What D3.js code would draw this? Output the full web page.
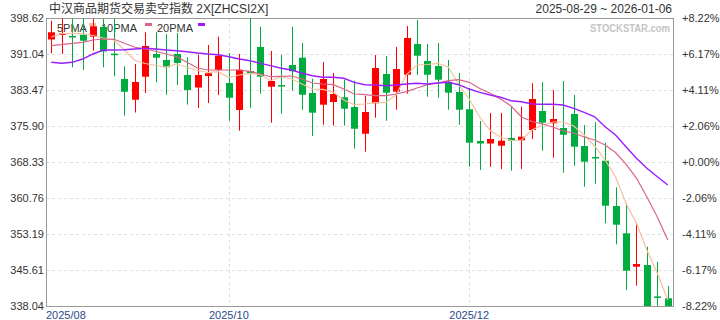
<!DOCTYPE html>
<html>
<head>
<meta charset="utf-8">
<style>
  body { margin: 0; background: #fff; }
  svg { display: block; font-family: "Liberation Sans", Arial, "Noto Sans CJK SC", sans-serif; }
</style>
</head>
<body>
<svg width="720" height="320"></svg>
<script src="https://d3js.org/d3.v7.min.js"></script>
<script>

// daily candles (60 sessions)
var opens = [394.10,395.11,394.84,395.11,394.69,396.73,391.11,385.79,381.43,386.27,
  391.05,389.79,391.05,386.63,384.00,386.42,387.68,384.95,379.27,387.47,
  392.52,384.17,384.52,388.73,390.27,382.84,380.38,380.95,381.94,379.90,
  374.28,380.68,386.84,383.12,386.69,393.15,389.58,388.52,385.22,383.05,
  379.42,372.75,372.22,371.76,373.38,372.89,375.06,379.06,376.47,375.48,
  378.43,371.69,369.38,368.60,359.07,353.33,346.31,346.66,340.06,339.66];
var highs = [398.05,398.51,398.50,398.55,398.41,398.41,398.41,388.46,388.94,395.62,
  395.62,395.25,395.46,390.35,390.90,392.94,394.69,391.26,391.05,398.55,
  396.79,391.68,390.84,396.79,393.36,385.85,389.36,387.05,385.64,385.43,
  382.21,390.84,390.63,392.52,396.94,398.20,393.15,393.36,389.79,387.05,
  383.90,376.95,378.64,378.64,380.11,379.96,384.88,385.16,383.47,385.37,
  382.42,376.11,376.68,372.39,363.01,359.64,355.65,350.51,347.30,342.25];
var lows = [391.20,391.05,388.25,387.68,391.74,388.25,386.36,378.07,378.74,382.84,
  385.09,382.48,384.52,380.39,379.69,380.74,382.42,377.02,374.91,379.75,
  382.70,376.60,378.49,383.33,379.33,373.80,376.18,375.97,375.97,371.13,
  370.50,377.65,377.02,379.33,382.70,386.63,382.06,381.85,379.33,376.18,
  367.34,366.65,367.34,366.86,366.50,366.86,373.17,370.71,369.23,366.08,
  367.55,363.13,363.77,355.44,351.01,341.41,342.31,338.04,338.04,338.04];
var closes = [395.62,395.41,394.71,393.84,396.88,391.57,390.84,383.11,385.16,392.73,
  390.27,388.25,389.15,383.47,386.63,386.99,390.69,381.85,387.74,386.90,
  386.27,385.37,384.40,387.41,382.48,378.70,385.79,382.63,379.54,375.33,
  378.85,388.10,382.91,387.89,394.41,390.69,386.69,385.64,382.91,379.33,
  372.39,372.22,373.17,372.81,372.81,373.65,381.58,376.60,377.37,374.07,
  371.55,368.39,369.26,359.14,355.14,345.47,346.87,338.04,339.93,338.04];

// moving averages as drawn (they start before the first visible session)
var ma5 = [394.62,395.36,395.40,395.36,394.94,394.41,393.99,391.89,389.68,389.05,
  388.63,388.31,388.94,388.25,387.58,387.16,387.32,386.10,386.63,386.99,
  386.69,385.43,386.27,385.79,384.74,383.68,383.62,382.99,381.37,380.42,
  380.53,380.80,380.84,382.42,386.73,388.73,388.84,389.09,388.31,384.63,
  381.58,377.79,374.96,373.59,372.85,372.96,375.06,376.11,376.74,376.74,
  375.90,374.01,371.70,368.75,365.24,359.64,355.43,349.82,344.92,339.30];
var ma10 = [392.79,393.00,393.30,393.51,393.99,394.20,394.14,393.30,392.46,392.10,
  391.62,391.05,390.48,389.30,388.10,387.68,387.68,387.68,387.68,387.41,
  386.84,386.27,386.36,386.42,385.79,384.95,384.74,384.59,383.68,382.63,
  382.49,382.28,382.28,382.63,383.12,383.90,384.59,384.95,385.43,385.64,
  385.09,383.79,382.80,381.58,380.11,377.79,376.85,376.32,375.69,374.85,
  374.43,373.59,372.96,371.91,370.33,367.90,364.96,360.97,356.76,351.92];
var ma20 = [389.30,389.09,389.30,389.99,391.05,391.89,391.89,391.95,392.10,392.25,
  392.10,391.89,391.74,391.53,391.26,391.05,390.90,390.48,389.99,389.64,
  389.09,388.59,388.04,387.68,386.99,386.48,386.15,386.15,385.94,385.09,
  384.59,384.53,384.38,384.53,384.74,384.88,384.74,384.95,385.09,384.59,
  383.68,382.99,382.42,381.94,381.22,381.01,380.53,380.47,380.47,380.32,
  379.62,378.78,377.85,375.76,374.01,371.55,369.11,367.02,365.24,363.49];

var yTicks = [398.62, 391.04, 383.47, 375.90, 368.33, 360.76, 353.19, 345.61, 338.04];
var pctLabels = ["+8.22%", "+6.17%", "+4.11%", "+2.06%", "+0.00%", "-2.06%", "-4.11%", "-6.17%", "-8.22%"];
var xTickIdx = [0, 17, 40];
var xTickLabels = ["2025/08", "2025/10", "2025/12"];
var maNames = ["5PMA", "10PMA", "20PMA"];
var maColors = ["#f7bfa0", "#d9648c", "#9b1cff"];

var svg = d3.select("svg");
var L = 46, R = 673, T = 18, B = 306;

var x = d3.scaleBand().domain(d3.range(opens.length)).range([L, R]);
var y = d3.scaleLinear().domain([yTicks[yTicks.length - 1], yTicks[0]]).range([B, T]);
var cx = function(i) { return x(i) + x.bandwidth() / 2; };

// grid
svg.append("g").selectAll("line")
  .data(yTicks.slice(1, -1))
  .enter().append("line")
    .attr("x1", L).attr("x2", R)
    .attr("y1", (d) => Math.round(y(d)) + 0.5).attr("y2", (d) => Math.round(y(d)) + 0.5)
    .attr("stroke", "#dedede").attr("stroke-dasharray", "3,3");
svg.append("g").selectAll("line")
  .data(xTickIdx.slice(1))
  .enter().append("line")
    .attr("x1", (d) => Math.round(cx(d)) + 0.5).attr("x2", (d) => Math.round(cx(d)) + 0.5)
    .attr("y1", T).attr("y2", B)
    .attr("stroke", "#dedede").attr("stroke-dasharray", "3,3");

// frame
svg.append("rect")
  .attr("x", L + 0.5).attr("y", T + 0.5)
  .attr("width", R - L).attr("height", B - T)
  .attr("fill", "none").attr("stroke", "#999");

// axis labels
svg.append("g").selectAll("text")
  .data(yTicks)
  .enter().append("text")
    .attr("x", 44).attr("y", (d) => y(d)).attr("dy", "0.35em")
    .attr("text-anchor", "end").attr("font-size", 11).attr("fill", "#333")
    .text((d) => d.toFixed(2));
svg.append("g").selectAll("text")
  .data(pctLabels)
  .enter().append("text")
    .attr("x", 682).attr("y", (d, i) => y(yTicks[i])).attr("dy", "0.35em")
    .attr("font-size", 11).attr("fill", "#333")
    .text((d) => d);
svg.append("g").selectAll("text")
  .data(xTickIdx)
  .enter().append("text")
    .attr("x", (d, i) => i === 0 ? L : cx(d)).attr("y", 319)
    .attr("text-anchor", (d, i) => i === 0 ? "start" : "middle")
    .attr("font-size", 11).attr("fill", "#2a4a8c")
    .text((d, i) => xTickLabels[i]);

// title, range, watermark
svg.append("text").attr("x", 49).attr("y", 13).attr("font-size", 12).attr("fill", "#333")
  .text("中汉商品期货交易卖空指数 2X[ZHCSI2X]");
svg.append("text").attr("x", 672).attr("y", 13).attr("text-anchor", "end")
  .attr("font-size", 12).attr("fill", "#333")
  .text("2025-08-29 ~ 2026-01-06");
svg.append("text").attr("x", 670).attr("y", 32).attr("text-anchor", "end")
  .attr("font-size", 11).attr("font-weight", "bold").attr("fill", "#c4c4c4")
  .attr("textLength", 80).attr("lengthAdjust", "spacingAndGlyphs")
  .text("STOCKSTAR.com");

// legend (sits under the candles)
var legendX = [57, 101, 157];
var legend = svg.append("g").selectAll("g")
  .data(maNames)
  .enter().append("g");
legend.append("text")
  .attr("x", (d, i) => legendX[i]).attr("y", 32)
  .attr("font-size", 11).attr("fill", "#333")
  .text((d) => d);
legend.append("rect")
  .attr("x", (d, i) => [89, 145, 198][i]).attr("y", 23)
  .attr("width", 7).attr("height", 3)
  .attr("fill", (d, i) => maColors[i]);

// candles
var candles = svg.append("g").selectAll("g")
  .data(d3.range(opens.length))
  .enter().append("g")
    .attr("fill", (i) => closes[i] >= opens[i] ? "#ff0000" : "#00ac3e")
    .attr("stroke", (i) => closes[i] >= opens[i] ? "#ff0000" : "#00ac3e");
candles.append("line")
  .attr("x1", (i) => Math.round(cx(i)) + 0.5).attr("x2", (i) => Math.round(cx(i)) + 0.5)
  .attr("y1", (i) => y(highs[i])).attr("y2", (i) => y(lows[i]));
candles.append("rect")
  .attr("stroke", "none")
  .attr("x", (i) => Math.round(cx(i)) - 3)
  .attr("width", 7)
  .attr("y", (i) => y(Math.max(opens[i], closes[i])))
  .attr("height", (i) => Math.max(1.5, Math.abs(y(opens[i]) - y(closes[i]))));

// moving average lines
[ma5, ma10, ma20].forEach(function(ma, k) {
  svg.append("path")
    .attr("fill", "none")
    .attr("stroke", maColors[k])
    .attr("stroke-width", k === 2 ? 1.4 : 1.2)
    .attr("d", d3.line().x((d, i) => cx(i)).y((d) => y(d))(ma));
});

</script>
</body>
</html>
